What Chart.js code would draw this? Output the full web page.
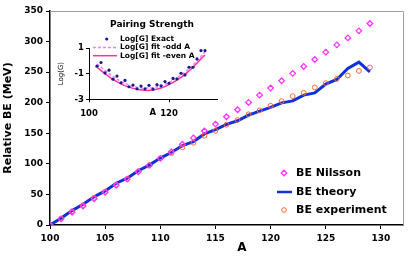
<!DOCTYPE html>
<html><head><meta charset="utf-8">
<script src="https://cdn.jsdelivr.net/npm/chart.js@4"></script>
<style>
html,body{margin:0;padding:0;background:#fff;}
#wrap{position:relative;width:410px;height:256px;}
#main{position:absolute;left:0;top:0;}
#inset{position:absolute;left:55px;top:15px;}
</style></head>
<body><div id="wrap">
<canvas id="main" width="410" height="256"></canvas>
<canvas id="inset" width="170" height="105"></canvas>
</div>
<script>
// ---- main chart data ----
const massA = [100,101,102,103,104,105,106,107,108,109,110,111,112,113,114,115,116,117,118,119,120,121,122,123,124,125,126,127,128,129];
const beNilsson = [0,10,21,31,43,53.5,65,75,87,97.5,109,120,132,142.5,153.6,165,177,188.5,200.5,212.4,224,235.8,248,259.3,270.7,282.7,294.6,306,317.5,329.6];
const beTheory = [0,11,23.5,33.8,46,55.8,68.3,76.5,88.8,98,109.5,118.5,130,136.5,149,156,164.5,170.5,179.7,186.3,192.5,199.8,203,212.4,216,230.4,238,256,266.3,250.5];
const beExperiment = [0,10.5,22.5,32.5,44.5,54.5,66,75.5,87.5,98,109,117.5,127,134.5,146,154,164,171.7,181,187.5,195,202.6,210.8,216.2,225,232,239,244.6,252,257.7];
const mainLabels = ['BE Nilsson','BE theory','BE experiment'];
const mainXTicks = [100,105,110,115,120,125,130];

// ---- inset data ----
const insetA = [102,103,104,105,106,107,108,109,110,111,112,113,114,115,116,117,118,119,120,121,122,123,124,125,126,127,128,129];
const logGExact = [-0.42,-0.13,-0.94,-0.73,-1.43,-1.19,-1.71,-1.53,-2.02,-1.89,-2.18,-1.97,-2.18,-1.91,-2.2,-1.86,-1.95,-1.62,-1.75,-1.37,-1.4,-0.97,-1.1,-0.5,-0.5,0.15,0.8,0.8];
const fitA = [102,104,106,108,110,112,114,116,118,120,122,124,126,128,129];
const logGFitOdd = [-0.25,-0.75,-1.22,-1.6,-1.88,-2.05,-2.12,-2.1,-1.95,-1.68,-1.32,-0.88,-0.33,0.33,0.7];
const logGFitEven = [-0.5,-1.0,-1.45,-1.8,-2.05,-2.22,-2.3,-2.28,-2.12,-1.85,-1.5,-1.05,-0.5,0.15,0.45];
const insetLabels = ['Log[G] Exact','Log[G] fit -odd A','Log[G] fit -even A'];
const insetXTicks = [100,120];

const FONT = "'DejaVu Sans', Verdana, sans-serif";
const pts = (xs, ys) => xs.map((x,i)=>({x:x,y:ys[i]}));

const C_NIL = '#FF33FF', C_TH = '#1030D8', C_EXP = '#FF6633';

const frameAndLegend = {
  id:'frameAndLegend',
  beforeDatasetsDraw(chart){
    const {ctx, chartArea:a} = chart;
    ctx.save();
    ctx.strokeStyle = '#a0a0a0'; ctx.lineWidth = 1;
    ctx.beginPath();
    ctx.moveTo(a.left, a.top+0.5); ctx.lineTo(a.right+0.5, a.top+0.5); ctx.lineTo(a.right+0.5, a.bottom);
    ctx.stroke();
    ctx.restore();
  },
  afterDraw(chart){
    const ctx = chart.ctx;
    ctx.save();
    ctx.fillStyle = '#000';
    ctx.textBaseline = 'middle';
    ctx.textAlign = 'center';
    ctx.font = "bold 12px " + FONT;
    ctx.fillText('A', 242, 248);
    ctx.textAlign = 'left';
    ctx.font = "bold 11px " + FONT;
    const ys = [173,192,210];
    ctx.strokeStyle = C_NIL; ctx.lineWidth = 1.3;
    ctx.beginPath(); ctx.moveTo(284, ys[0]-2.8); ctx.lineTo(286.8, ys[0]); ctx.lineTo(284, ys[0]+2.8); ctx.lineTo(281.2, ys[0]); ctx.closePath(); ctx.stroke();
    ctx.strokeStyle = C_TH; ctx.lineWidth = 2.5;
    ctx.beginPath(); ctx.moveTo(277, ys[1]); ctx.lineTo(292, ys[1]); ctx.stroke();
    ctx.strokeStyle = C_EXP; ctx.lineWidth = 1;
    ctx.beginPath(); ctx.arc(284, ys[2], 2.3, 0, Math.PI*2); ctx.stroke();
    mainLabels.forEach((t,i)=>ctx.fillText(t, 296, ys[i]));
    ctx.restore();
  }
};

new Chart(document.getElementById('main'), {
  type:'scatter',
  data:{datasets:[
    {label:mainLabels[0], data:pts(massA,beNilsson), showLine:false, pointStyle:'rectRot', pointRadius:2.8, borderColor:C_NIL, backgroundColor:'rgba(0,0,0,0)', borderWidth:1.3, order:1},
    {label:mainLabels[1], data:pts(massA,beTheory), showLine:true, pointRadius:0, borderColor:C_TH, borderWidth:3, tension:0, order:3},
    {label:mainLabels[2], data:pts(massA,beExperiment), showLine:false, pointStyle:'circle', pointRadius:2.4, borderColor:C_EXP, backgroundColor:'rgba(0,0,0,0)', borderWidth:1, order:2}
  ]},
  options:{
    responsive:false, animation:false, devicePixelRatio:1,
    layout:{padding:{left:0,top:11,right:7,bottom:0}},
    plugins:{legend:{display:false}, tooltip:{enabled:false}},
    scales:{
      x:{type:'linear', min:100, max:132,
        afterFit(s){ s.height = 31; },
        afterBuildTicks(s){ s.ticks = mainXTicks.map(v=>({value:v})); },
        ticks:{font:{family:FONT, weight:'bold', size:9}, color:'#000', padding:4, maxRotation:0},
        grid:{display:true, drawOnChartArea:false, drawTicks:true, tickLength:4, color:'#000'},
        border:{color:'#000', width:1.5}
      },
      y:{type:'linear', min:0, max:350,
        afterFit(s){ s.width = 50; },
        ticks:{stepSize:50, font:{family:FONT, weight:'bold', size:9}, color:'#000', padding:3},
        grid:{display:true, drawOnChartArea:false, drawTicks:true, tickLength:4, color:'#000'},
        border:{color:'#000', width:1.5},
        title:{display:true, text:'Relative BE (MeV)', font:{family:FONT, weight:'bold', size:11}, color:'#000', padding:{top:2,bottom:0}}
      }
    }
  },
  plugins:[frameAndLegend]
});

const insetDeco = {
  id:'insetDeco',
  afterDraw(chart){
    const ctx = chart.ctx;
    ctx.save();
    ctx.fillStyle = '#000';
    ctx.textAlign = 'center'; ctx.textBaseline = 'middle';
    ctx.font = "bold 9px " + FONT;
    ctx.fillText('Pairing Strength', 152-55, 25-15);
    ctx.font = "bold 8.5px " + FONT;
    ctx.fillText('A', 152.7-55, 112.7-15);
    ctx.textAlign = 'left';
    ctx.font = "bold 7.5px " + FONT;
    const lx = 120-55, ys = [39-15, 47.5-15, 55.7-15];
    ctx.fillStyle = '#1a1a8c';
    ctx.beginPath(); ctx.arc(106.7-55, ys[0], 1.6, 0, Math.PI*2); ctx.fill();
    ctx.strokeStyle = '#FF77FF'; ctx.lineWidth = 1.5; ctx.setLineDash([3,2]);
    ctx.beginPath(); ctx.moveTo(93-55, ys[1]); ctx.lineTo(117-55, ys[1]); ctx.stroke();
    ctx.setLineDash([]);
    ctx.strokeStyle = '#FF3399';
    ctx.beginPath(); ctx.moveTo(93-55, ys[2]); ctx.lineTo(117-55, ys[2]); ctx.stroke();
    ctx.fillStyle = '#000';
    insetLabels.forEach((t,i)=>ctx.fillText(t, lx, ys[i]));
    ctx.restore();
  }
};

new Chart(document.getElementById('inset'), {
  type:'scatter',
  data:{datasets:[
    {label:insetLabels[0], data:pts(insetA,logGExact), showLine:false, pointStyle:'circle', pointRadius:1.6, borderWidth:0, backgroundColor:'#1a1a8c', borderColor:'#1a1a8c', order:1},
    {label:insetLabels[1], data:pts(fitA,logGFitOdd), showLine:true, pointRadius:0, borderColor:'#FF77FF', borderWidth:1.5, borderDash:[3,2], tension:0.4, order:2},
    {label:insetLabels[2], data:pts(fitA,logGFitEven), showLine:true, pointRadius:0, borderColor:'#FF3399', borderWidth:1.5, tension:0.4, order:3}
  ]},
  options:{
    responsive:false, animation:false, devicePixelRatio:1,
    layout:{padding:{left:0,top:33,right:8,bottom:0}},
    plugins:{legend:{display:false}, tooltip:{enabled:false}},
    scales:{
      x:{type:'linear', min:100, max:132,
        afterFit(s){ s.height = 20.7; },
        afterBuildTicks(s){ s.ticks = insetXTicks.map(v=>({value:v})); },
        ticks:{font:{family:FONT, weight:'bold', size:8.5}, color:'#000', padding:6, maxRotation:0},
        grid:{display:true, drawOnChartArea:false, drawTicks:true, tickLength:3, color:'#000'},
        border:{color:'#000', width:1}
      },
      y:{type:'linear', min:-3, max:1,
        afterFit(s){ s.width = 34; },
        ticks:{stepSize:1, font:{family:FONT, weight:'bold', size:8.5}, color:'#000', padding:2},
        grid:{display:true, drawOnChartArea:false, drawTicks:true, tickLength:3, color:'#000'},
        border:{color:'#000', width:1},
        title:{display:true, text:'Log(G)', font:{family:FONT, size:7}, color:'#000', padding:{top:2,bottom:0}}
      }
    }
  },
  plugins:[insetDeco]
});
</script>
</body></html>
